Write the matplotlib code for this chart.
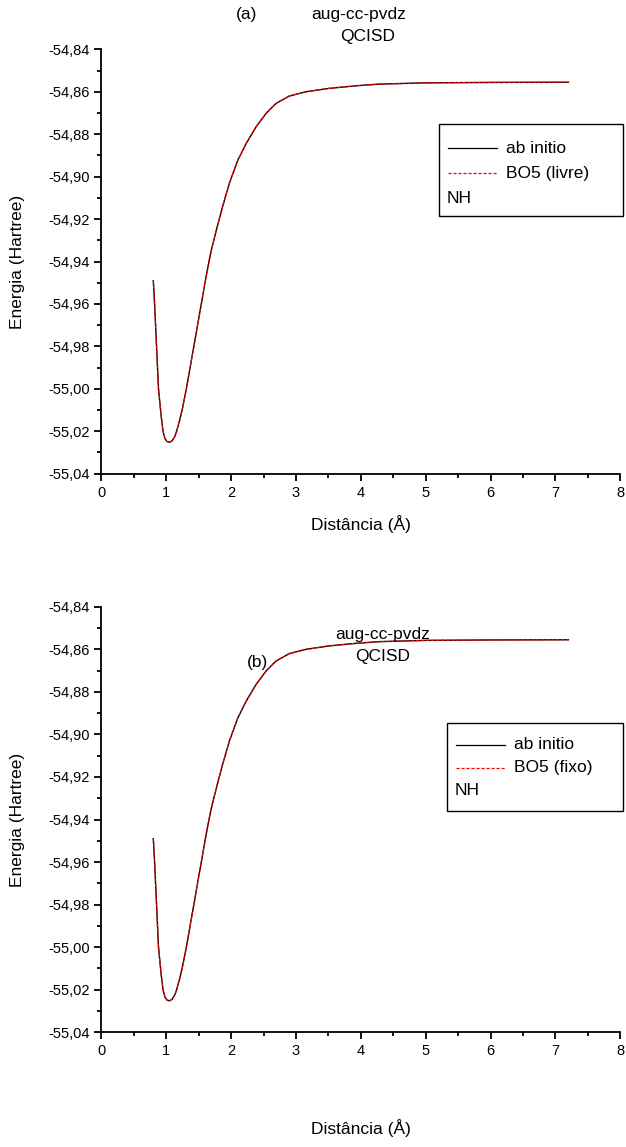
import matplotlib
matplotlib.use("Agg")
import matplotlib.pyplot as plt
from matplotlib.ticker import MultipleLocator, FuncFormatter
from matplotlib.lines import Line2D
from matplotlib.patches import Rectangle

plt.rcParams['font.family'] = ['Liberation Sans', 'DejaVu Sans']

# distances (Angstrom) and energies (Hartree)
dist = [0.80, 0.82, 0.85, 0.88, 0.92, 0.95, 0.98, 1.01, 1.05, 1.09, 1.13, 1.16,
        1.20, 1.245, 1.31, 1.367, 1.425, 1.482, 1.54, 1.597, 1.655, 1.692, 1.769, 1.871,
        1.974, 2.102, 2.231, 2.385, 2.538, 2.692, 2.897, 3.154, 3.51, 3.92, 4.28,
        5.0, 6.0, 7.2]
ab_initio = [-54.949, -54.960, -54.980, -55.000, -55.0125, -55.020, -55.0235, -55.0248,
             -55.0252, -55.0245, -55.0225, -55.020, -55.0155, -55.010, -55.000, -54.990,
             -54.980, -54.970, -54.960, -54.950, -54.9405, -54.9350, -54.9255, -54.9138,
             -54.9030, -54.8923, -54.8844, -54.8765, -54.8702, -54.8655, -54.8620, -54.8600,
             -54.8584, -54.8572, -54.8564, -54.8558, -54.8556, -54.8555]
bo5_livre = [-54.949, -54.960, -54.980, -55.000, -55.0125, -55.020, -55.0235, -55.0248,
             -55.0252, -55.0245, -55.0225, -55.0198, -55.0152, -55.0097, -54.9998, -54.990,
             -54.980, -54.970, -54.960, -54.950, -54.9405, -54.9350, -54.9255, -54.9138,
             -54.9030, -54.8923, -54.8844, -54.8765, -54.8702, -54.8655, -54.8620, -54.8600,
             -54.8584, -54.8572, -54.8564, -54.8558, -54.8556, -54.8555]
bo5_fixo = [-54.949, -54.960, -54.980, -55.000, -55.0125, -55.020, -55.0235, -55.0248,
            -55.0252, -55.0245, -55.0225, -55.0199, -55.0153, -55.0098, -54.9999, -54.990,
            -54.980, -54.970, -54.960, -54.950, -54.9405, -54.9350, -54.9255, -54.9138,
            -54.9030, -54.8923, -54.8844, -54.8765, -54.8702, -54.8655, -54.8620, -54.8600,
            -54.8584, -54.8572, -54.8564, -54.8558, -54.8556, -54.8555]

fig = plt.figure(figsize=(6.26, 11.47), dpi=100)
ax1 = fig.add_axes([0.162, 0.587, 0.829, 0.370])
ax2 = fig.add_axes([0.162, 0.100, 0.829, 0.371])

def comma(v, pos):
    return f"{v:.2f}".replace('.', ',')

def setup(ax, xlab_y):
    ax.set_xlim(0, 8)
    ax.set_ylim(-55.04, -54.84)
    for s in ['top', 'right']:
        ax.spines[s].set_visible(False)
    for s in ['left', 'bottom']:
        ax.spines[s].set_linewidth(1.3)
    ax.xaxis.set_major_locator(MultipleLocator(1))
    ax.xaxis.set_minor_locator(MultipleLocator(0.5))
    ax.yaxis.set_major_locator(MultipleLocator(0.02))
    ax.yaxis.set_minor_locator(MultipleLocator(0.01))
    ax.yaxis.set_major_formatter(FuncFormatter(comma))
    ax.tick_params(which='major', direction='out', length=5, width=1.3, labelsize=10.5)
    ax.tick_params(which='minor', direction='out', length=3, width=1.3)
    ax.set_xlabel('Distância (Å)', fontsize=12.5)
    ax.set_ylabel('Energia (Hartree)', fontsize=12.5)
    ax.yaxis.set_label_coords(-0.148, 0.5)
    ax.xaxis.set_label_coords(0.5, xlab_y)

def legend_box(ax, x0, y0, w, h, dy, label2):
    ax.add_patch(Rectangle((x0, y0), w, h, transform=ax.transAxes,
                           fill=False, edgecolor='black', linewidth=1, clip_on=False))
    ys = [y0 + h - dy[0], y0 + h - dy[1], y0 + h - dy[2]]
    ax.add_line(Line2D([x0 + 0.018, x0 + 0.112], [ys[0], ys[0]],
                       transform=ax.transAxes, color='black', linewidth=0.9))
    ax.text(x0 + 0.13, ys[0], 'ab initio', transform=ax.transAxes,
            fontsize=12.5, va='center', ha='left')
    ax.add_line(Line2D([x0 + 0.018, x0 + 0.112], [ys[1], ys[1]],
                       transform=ax.transAxes, color='red', linewidth=0.9,
                       linestyle=(0, (2.5, 1.5))))
    ax.text(x0 + 0.13, ys[1], label2, transform=ax.transAxes,
            fontsize=12.5, va='center', ha='left')
    ax.text(x0 + 0.016, ys[2], 'NH', transform=ax.transAxes,
            fontsize=12.5, va='center', ha='left')

# panel (a)
setup(ax1, -0.097)
ax1.plot(dist, ab_initio, color='black', linewidth=1.0)
ax1.plot(dist, bo5_livre, color='red', linewidth=0.9, linestyle=(0, (2.5, 1.5)))
legend_box(ax1, 0.650, 0.608, 0.356, 0.216, (0.057, 0.116, 0.176), 'BO5 (livre)')
fig.text(247 / 626, 1 - 14 / 1147, '(a)', fontsize=12.5, ha='center', va='center')
fig.text(359 / 626, 1 - 14 / 1147, 'aug-cc-pvdz', fontsize=12.5, ha='center', va='center')
fig.text(368 / 626, 1 - 37 / 1147, 'QCISD', fontsize=12.5, ha='center', va='center')

# panel (b)
setup(ax2, -0.204)
ax2.plot(dist, ab_initio, color='black', linewidth=1.0)
ax2.plot(dist, bo5_fixo, color='red', linewidth=0.9, linestyle=(0, (2.5, 1.5)))
legend_box(ax2, 0.665, 0.521, 0.341, 0.207, (0.052, 0.106, 0.160), 'BO5 (fixo)')
fig.text(383 / 626, 1 - 634 / 1147, 'aug-cc-pvdz', fontsize=12.5, ha='center', va='center')
fig.text(383 / 626, 1 - 657 / 1147, 'QCISD', fontsize=12.5, ha='center', va='center')
fig.text(258 / 626, 1 - 663 / 1147, '(b)', fontsize=12.5, ha='center', va='center')

fig.savefig('out.png', dpi=100)
